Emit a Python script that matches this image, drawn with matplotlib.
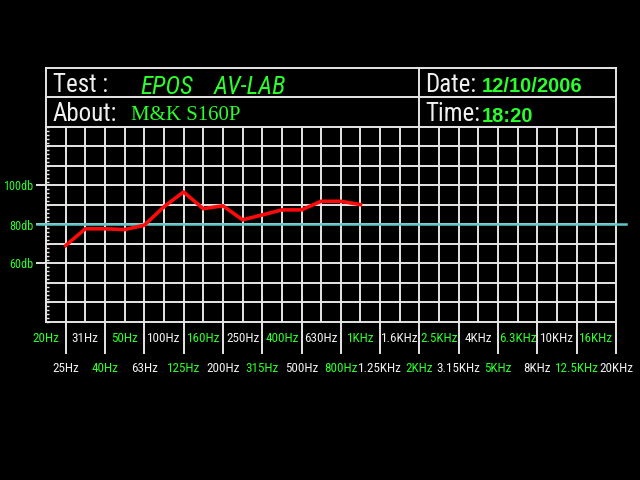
import matplotlib
matplotlib.use("Agg")
import matplotlib.pyplot as plt
from matplotlib.lines import Line2D
from matplotlib import transforms
from matplotlib import font_manager as fm
import numpy as np

# ---- data ----
freq_labels = ["20Hz", "25Hz", "31Hz", "40Hz", "50Hz", "63Hz", "100Hz", "125Hz",
               "160Hz", "200Hz", "250Hz", "315Hz", "400Hz", "500Hz", "630Hz",
               "800Hz", "1KHz", "1.25KHz", "1.6KHz", "2KHz", "2.5KHz", "3.15KHz",
               "4KHz", "5KHz", "6.3KHz", "8KHz", "10KHz", "12.5KHz", "16KHz", "20KHz"]
measured_idx = list(range(1, 17))  # 25Hz .. 1KHz
spl_db = [69.2, 77.8, 77.8, 77.4, 79.6, 89.1, 96.7, 88.1, 89.6, 82.4,
          84.9, 87.5, 87.5, 91.9, 91.9, 90.2]
ref_level = 80
y_ticks = [60, 80, 100]
y_tick_labels = ["60db", "80db", "100db"]
test_name = ["EPOS", "AV-LAB"]
about = "M&K S160P"
date = "12/10/2006"
time_str = "18:20"

GREEN = "#2bff2b"
WHITE = "#f0f0f0"
GRID = "#e6e6e6"

# pick a narrow font if one is installed
entries = fm.fontManager.ttflist
names = {e.name for e in entries}
NARROW = dict(family=["DejaVu Sans"])
k = 0.78
for cand in ["Liberation Sans Narrow", "DejaVu Sans Condensed", "Roboto Condensed",
             "Open Sans Condensed", "Noto Sans Condensed"]:
    if cand in names:
        NARROW = dict(family=[cand, "DejaVu Sans"])
        k = 1.0 if "Narrow" in cand else 0.9
        break
else:
    if any(e.name == "DejaVu Sans" and "condensed" in str(e.stretch) for e in entries):
        NARROW = dict(family=["DejaVu Sans"], stretch="condensed")
        k = 0.88

W, H = 640, 480
def fx(px): return px / W
def fy(py): return 1 - py / H

fig = plt.figure(figsize=(6.4, 4.8), dpi=100, facecolor="black")
ax = fig.add_axes([fx(46), fy(322), fx(616) - fx(46), fy(127) - fy(322)])
ax.set_facecolor("black")
ax.set_xlim(0, len(freq_labels) - 1)
ax.set_ylim(30, 130)

for s in ax.spines.values():
    s.set_color(GRID)
    s.set_linewidth(1.4)

for i in range(1, len(freq_labels) - 1):
    ax.axvline(i, color=GRID, lw=1.4, zorder=1)
for v in range(40, 130, 10):
    ax.axhline(v, color=GRID, lw=1.4, zorder=1)

# y ticks
ax.set_xticks([])
ax.set_yticks(y_ticks)
ax.set_yticklabels(y_tick_labels, color=GREEN, fontsize=9.8 * k, **NARROW)
ax.tick_params(axis="y", which="major", direction="out", length=7.5, width=1.4,
               color=GRID, pad=1.5)
ax.set_yticks(np.arange(30, 131, 2), minor=True)
ax.tick_params(axis="y", which="minor", direction="in", length=2.5, width=1,
               color=GRID)

# reference line (cyan), extends beyond the grid
bt = transforms.blended_transform_factory(fig.transFigure, ax.transData)
ax.add_line(Line2D([fx(37), fx(626)], [ref_level, ref_level], transform=bt,
                   color="#62c6c6", lw=1.8, clip_on=False, zorder=3))

# response curve
ax.plot(measured_idx, spl_db, color="#ff0a0a", lw=2.6, zorder=4,
        solid_joinstyle="round")

# x labels: two staggered rows, extended separators for lower row
xt = transforms.blended_transform_factory(ax.transData, fig.transFigure)
xs = 10.5 * k
for i, lab in enumerate(freq_labels):
    col = GREEN if i % 4 in (0, 3) else WHITE
    if i % 2 == 0:
        fig.text(i, fy(338), lab, transform=xt, ha="center", va="center",
                 color=col, fontsize=xs, **NARROW)
    else:
        fig.add_artist(Line2D([i, i], [fy(322), fy(353)], transform=xt,
                              color=GRID, lw=1.4))
        fig.text(i, fy(368), lab, transform=xt, ha="center", va="center",
                 color=col, fontsize=xs, **NARROW)

# header box
def hline(x0, x1, y):
    fig.add_artist(Line2D([fx(x0), fx(x1)], [fy(y), fy(y)], color=GRID, lw=1.4))
def vline(x, y0, y1):
    fig.add_artist(Line2D([fx(x), fx(x)], [fy(y0), fy(y1)], color=GRID, lw=1.4))

hline(46, 616, 68)
hline(46, 616, 97)
vline(46, 68, 127)
vline(616, 68, 127)
vline(419, 68, 127)

hs = 20 * k
fig.text(fx(53), fy(85), "Test :", color=WHITE, fontsize=hs,
         va="center", ha="left", **NARROW)
fig.text(fx(140), fy(87), test_name[0], color=GREEN, fontsize=hs,
         style="italic", va="center", ha="left", **NARROW)
fig.text(fx(214), fy(87), test_name[1], color=GREEN, fontsize=hs,
         style="italic", va="center", ha="left", **NARROW)
fig.text(fx(53), fy(114), "About:", color=WHITE, fontsize=hs,
         va="center", ha="left", **NARROW)
fig.text(fx(131), fy(115), about, color=GREEN, family=["Liberation Serif", "DejaVu Serif"],
         fontsize=15, va="center", ha="left")
fig.text(fx(425), fy(85), "Date:", color=WHITE, fontsize=hs,
         va="center", ha="left", **NARROW)
fig.text(fx(482), fy(87), date, color=GREEN, family=["Liberation Sans", "DejaVu Sans"],
         fontsize=14.5, weight="bold", va="center", ha="left")
fig.text(fx(425), fy(114), "Time:", color=WHITE, fontsize=hs,
         va="center", ha="left", **NARROW)
fig.text(fx(482), fy(116), time_str, color=GREEN, family=["Liberation Sans", "DejaVu Sans"],
         fontsize=14.5, weight="bold", va="center", ha="left")

fig.savefig("out.png", dpi=100, facecolor="black")
